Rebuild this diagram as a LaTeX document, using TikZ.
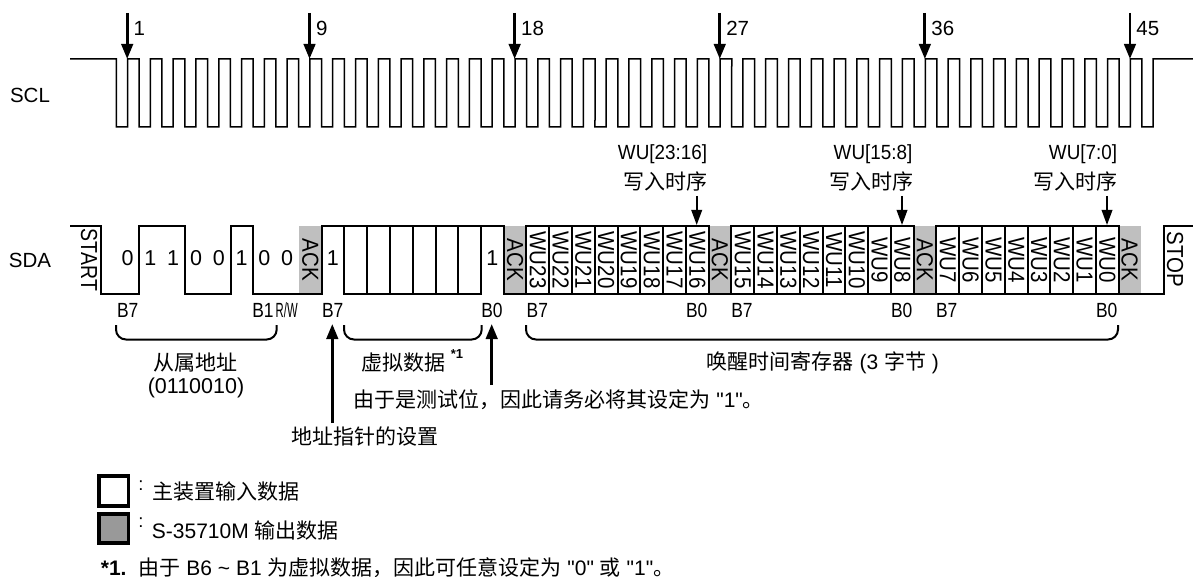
\documentclass[tikz,border=0pt]{standalone}
\usepackage{fontspec}
\setmainfont{Liberation Sans}
\newfontfamily\zhfont{Noto Sans CJK SC}
\newfontfamily\plainfont{Liberation Sans}
\newcommand{\zh}[1]{{\zhfont #1}}
\newcommand{\qt}[1]{{\plainfont "#1"}}
\usetikzlibrary{arrows.meta}

\tikzset{
  sclwave/.style={line width=1.5pt,line join=miter},
  sdawave/.style={line width=2pt,line join=miter},
  txt/.style={font=\fontsize{20.5}{24}\selectfont,inner sep=0pt},
  big/.style={font=\fontsize{21.5}{24}\selectfont,inner sep=0pt},
  note/.style={font=\fontsize{21}{24}\selectfont,inner sep=0pt},
  bitname/.style={txt,rotate=-90,yscale=1.13,transform shape},
  byte/.style={txt,xscale=.85,transform shape},
  wutitle/.style={txt,xscale=.92,transform shape},
  ptr/.style={line width=2.8pt,-{Triangle[length=15pt,width=11.5pt]}},
  thinptr/.style={line width=2pt,-{Triangle[length=15pt,width=10.5pt]}},
  brace/.style={line width=2pt,rounded corners=10pt},
  legendbox/.style={draw,line width=3.7pt,minimum size=29.5pt,inner sep=0pt},
}

\begin{document}
\begin{tikzpicture}[x=1pt,y=-1pt]
  \useasboundingbox (0,0) rectangle (1193,577);

  % SCL
  \node[txt] (sclname) at (30,95) {SCL};
  \draw[sclwave] (70,59) -- (116.4,59)
    \foreach \k in {0,...,45} {
      -- ({116.4+22.79*\k},127) -- ({127.6+22.79*\k},127)
      -- ({127.6+22.79*\k},59) \ifnum\k<45 -- ({139.2+22.79*\k},59) \fi
    } -- (1193,59);

  % clock marks
  \foreach \n/\k in {1/0,9/8,18/17,27/26,36/35,45/44} {
    \coordinate (top\n) at ({127.2+22.79*\k},13);
    \coordinate (tip\n) at ({127.2+22.79*\k},59);
    \draw[ptr] (top\n) -- (tip\n);
    \node[txt,anchor=west] (clk\n) at ({133.5+22.79*\k},28.5) {\n};
  }

  % SDA
  \node[txt] (sdaname) at (30,260) {SDA};
  \foreach \x in {299,503.7,708.7,913.7,1118.3}
    \fill[black!25] (\x,226) rectangle ++(22.7,68);

  \draw[sdawave] (70,226) -- (101,226) -- (101,294) -- (139,294) -- (139,226) -- (185,226)
    -- (185,294) -- (230.7,294) -- (230.7,226) -- (253,226) -- (253,294) -- (321.7,294)
    -- (321.7,226) -- (503.7,226) -- (503.7,294) -- (526.4,294);
  \draw[sdawave] (344.4,226) -- (344.4,294) -- (481,294) -- (481,226);
  \foreach \k in {1,...,5}
    \draw[sdawave] ({344.4+22.79*\k},226) -- ({344.4+22.79*\k},294);

  \foreach \s in {526.4,731.4,936.4} {
    \draw[sdawave] (\s,226) rectangle ({\s+182.3},294);
    \foreach \k in {1,...,7}
      \draw[sdawave] ({\s+22.79*\k},226) -- ({\s+22.79*\k},294);
  }
  \draw[sdawave] (708.7,294) -- (731.4,294) (913.7,294) -- (936.4,294)
    (1118.7,294) -- (1164,294) -- (1164,226) -- (1193,226);

  % bit labels
  \node[bitname,xscale=.95] (startlab) at (89,260) {START};
  \node[bitname] (stoplab) at (1175,259.5) {STOP};
  \foreach \x in {310.3,515,719.9,924.9,1129.7}
    \node[bitname] (ack\x) at (\x,260) {ACK};
  \foreach \x/\v in {127.5/0,150.4/1,173.2/1,196/0,218.8/0,241.5/1,264.3/0,287/0,332.8/1,492.3/1}
    \node[big] (val\x) at (\x,258) {\v};
  \foreach \i/\w in {0/23,1/22,2/21,3/20,4/19,5/18,6/17,7/16}
    \node[bitname] (wu\w) at ({537.8+22.79*\i},260) {WU\w};
  \foreach \i/\w in {0/15,1/14,2/13,3/12,4/11,5/10,6/9,7/8}
    \node[bitname] (wu\w) at ({742.8+22.79*\i},260) {WU\w};
  \foreach \i/\w in {0/7,1/6,2/5,3/4,4/3,5/2,6/1,7/0}
    \node[bitname] (wu\w) at ({947.8+22.79*\i},260) {WU\w};

  % byte labels
  \foreach \x/\v in {127.7/B7,263/B1,332.7/B7,492/B0,537.3/B7,696.7/B0,742/B7,901.7/B0,946.7/B7,1106.7/B0}
    \node[byte] (lab\x) at (\x,310) {\v};
  \node[txt,xscale=.55,transform shape] (rw) at (286.7,310) {R/W};

  % write timing
  \foreach \x/\w/\cx/\nm in {662.5/{WU[23:16]}/665/a,873/{WU[15:8]}/871/b,1083/{WU[7:0]}/1075.5/c} {
    \node[wutitle] (wr\nm) at (\x,154) {\w};
    \node[note] (wt\nm) at (\cx,181.5) {\zh{写入时序}};
  }
  \foreach \x/\nm in {696.7/a,902/b,1107/c} {
    \coordinate (wf\nm) at (\x,196);
    \coordinate (wg\nm) at (\x,225);
    \draw[thinptr] (wf\nm) -- (wg\nm);
  }

  % braces
  \draw[brace] (116,325) -- (116,339.5) -- (276.7,339.5) -- (276.7,325);
  \draw[brace] (344,325) -- (344,339.5) -- (481.7,339.5) -- (481.7,325);
  \draw[brace] (526,325) -- (526,339.5) -- (1118,339.5) -- (1118,325);

  % texts under the braces
  \node[note] (slave) at (195,363) {\zh{从属地址}};
  \node[big] (slavebits) at (196,388) {(0110010)};
  \node[note] (dummy) at (403,363) {\zh{虚拟数据}};
  \node[font=\fontsize{13}{14}\selectfont\bfseries,inner sep=0pt] (dummynote) at (457,354) {*1};
  \node[note,anchor=west] (wake) at (706.5,363) {\zh{唤醒时间寄存器} (3 \zh{字节} )};
  \node[note,anchor=west] (testbit) at (353.3,400) {\zh{由于是测试位，因此请务必将其设定为} \qt{1}\zh{。}};
  \node[note,anchor=west] (pointer) at (291.7,437) {\zh{地址指针的设置}};
  \coordinate (up1) at (332.3,423);
  \coordinate (up1tip) at (332.3,324);
  \coordinate (up2) at (491.7,385);
  \coordinate (up2tip) at (491.7,324);
  \draw[ptr] (up1) -- (up1tip);
  \draw[ptr] (up2) -- (up2tip);

  % legend
  \node[legendbox,fill=white] (legin) at (113.7,491) {};
  \node[legendbox,fill=black!40] (legout) at (113.7,528.5) {};
  \node[txt,scale=.9] (legincolon) at (141,486) {:};
  \node[txt,scale=.9] (legoutcolon) at (141,523) {:};
  \node[note,anchor=west] (legintxt) at (152.7,492) {\zh{主装置输入数据}};
  \node[note,anchor=west] (legouttxt) at (151.7,530.5) {S-35710M \zh{输出数据}};
  \node[note,anchor=base west] (foot) at (100.7,575) {\smash{\textbf{*1.}\hspace{12pt}\zh{由于} B6 \textasciitilde{} B1 \zh{为虚拟数据，因此可任意设定为} \qt{0} \zh{或} \qt{1}\zh{。}}};
\end{tikzpicture}
\end{document}
